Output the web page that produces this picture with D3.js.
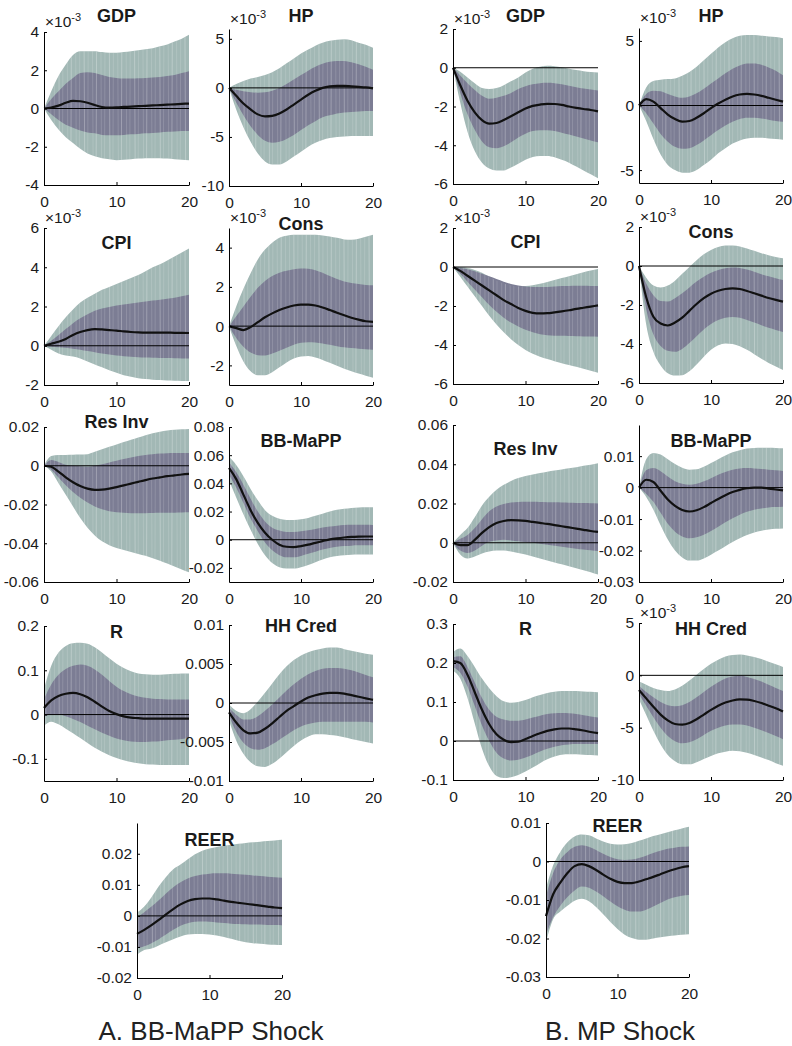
<!DOCTYPE html>
<html>
<head>
<meta charset="utf-8">
<script src="https://cdn.jsdelivr.net/npm/d3@7"></script>
<style>
  body { margin: 0; background: #fff; }
  svg text { font-family: "Liberation Sans", Arial, Helvetica, sans-serif; }
  .tick text { font-size: 15.5px; }
</style>
</head>
<body>
<div id="chart"></div>
<script>
// horizons (quarters after the shock)
var horizons = [0,1,2,3,4,5,6,7,8,9,10,11,12,13,14,15,16,17,18,19,20];

// each panel: [median, inner low, inner high, outer low, outer high]
// A. BB-MaPP shock
var gdpA = [
  [0,0.05,0.15,0.3,0.4,0.38,0.3,0.18,0.08,0.05,0.06,0.08,0.1,0.12,0.14,0.16,0.18,0.2,0.22,0.24,0.26],
  [0,-0.3,-0.6,-0.85,-1.0,-1.15,-1.25,-1.3,-1.38,-1.4,-1.4,-1.38,-1.35,-1.33,-1.3,-1.28,-1.25,-1.22,-1.2,-1.18,-1.17],
  [0,0.5,0.9,1.3,1.6,1.85,1.9,1.85,1.75,1.65,1.6,1.57,1.57,1.58,1.6,1.62,1.65,1.7,1.75,1.85,1.95],
  [0,-0.6,-1.1,-1.5,-1.8,-2.1,-2.35,-2.5,-2.6,-2.65,-2.7,-2.68,-2.65,-2.62,-2.6,-2.6,-2.6,-2.62,-2.65,-2.68,-2.7],
  [0,0.9,1.7,2.3,2.8,3.0,3.0,3.0,2.95,2.92,2.92,2.95,3.0,3.05,3.1,3.15,3.25,3.35,3.5,3.65,3.85]
];
var hpA = [
  [0,-0.8,-1.6,-2.2,-2.7,-2.9,-2.85,-2.6,-2.2,-1.7,-1.2,-0.7,-0.3,0,0.15,0.2,0.2,0.15,0.1,0.05,-0.05],
  [0,-1.5,-2.8,-3.9,-4.8,-5.4,-5.6,-5.5,-5.2,-4.8,-4.3,-3.8,-3.4,-3.0,-2.8,-2.6,-2.5,-2.45,-2.4,-2.35,-2.35],
  [0,-0.2,-0.35,-0.45,-0.5,-0.45,-0.3,0,0.4,0.85,1.3,1.75,2.15,2.45,2.65,2.75,2.75,2.6,2.4,2.15,1.85],
  [0,-2.2,-4.0,-5.5,-6.7,-7.5,-7.8,-7.8,-7.5,-7.0,-6.5,-6.0,-5.6,-5.3,-5.1,-5.0,-4.95,-4.9,-4.9,-4.9,-4.9],
  [0,0.4,0.7,0.95,1.1,1.3,1.6,2.0,2.5,3.0,3.5,3.9,4.3,4.6,4.8,4.9,4.95,4.85,4.6,4.4,4.1]
];
var cpiA = [
  [0,0.1,0.2,0.35,0.55,0.7,0.8,0.85,0.83,0.8,0.77,0.73,0.7,0.68,0.67,0.67,0.67,0.67,0.66,0.66,0.65],
  [0,-0.05,-0.08,-0.1,-0.15,-0.2,-0.27,-0.33,-0.4,-0.45,-0.5,-0.53,-0.56,-0.58,-0.6,-0.61,-0.62,-0.63,-0.64,-0.65,-0.65],
  [0,0.25,0.55,0.85,1.15,1.4,1.6,1.78,1.9,1.98,2.05,2.1,2.15,2.2,2.25,2.3,2.35,2.4,2.45,2.52,2.6],
  [0,-0.2,-0.4,-0.5,-0.55,-0.65,-0.8,-0.95,-1.1,-1.25,-1.38,-1.5,-1.58,-1.65,-1.7,-1.73,-1.75,-1.77,-1.78,-1.79,-1.8],
  [0,0.5,1.0,1.45,1.85,2.2,2.45,2.65,2.85,3.0,3.15,3.3,3.45,3.6,3.8,4.0,4.15,4.35,4.55,4.75,4.95]
];
var consA = [
  [0,-0.1,-0.2,-0.05,0.2,0.45,0.65,0.82,0.95,1.05,1.1,1.1,1.05,0.95,0.82,0.68,0.55,0.43,0.33,0.25,0.22],
  [0,-0.6,-1.05,-1.35,-1.48,-1.5,-1.4,-1.25,-1.1,-0.95,-0.85,-0.82,-0.83,-0.88,-0.95,-1.02,-1.08,-1.12,-1.15,-1.18,-1.2],
  [0,0.5,1.0,1.5,1.95,2.3,2.55,2.72,2.82,2.9,2.93,2.92,2.85,2.72,2.55,2.4,2.28,2.2,2.15,2.1,2.08],
  [0,-1.0,-1.8,-2.3,-2.5,-2.5,-2.35,-2.1,-1.85,-1.65,-1.55,-1.52,-1.6,-1.72,-1.87,-2.02,-2.17,-2.3,-2.42,-2.53,-2.63],
  [0,1.0,1.9,2.7,3.4,3.9,4.25,4.5,4.6,4.65,4.65,4.65,4.65,4.62,4.57,4.5,4.42,4.4,4.45,4.55,4.65]
];
var resInvA = [
  [0,-0.0005,-0.003,-0.006,-0.0085,-0.0105,-0.0118,-0.0124,-0.0123,-0.0118,-0.011,-0.0101,-0.0092,-0.0083,-0.0074,-0.0066,-0.006,-0.0054,-0.005,-0.0045,-0.0042],
  [0,-0.002,-0.006,-0.01,-0.0135,-0.0165,-0.019,-0.021,-0.0225,-0.0235,-0.024,-0.0243,-0.0245,-0.0245,-0.0245,-0.0244,-0.0243,-0.0242,-0.0242,-0.0241,-0.024],
  [0,0.003,0.002,0.0005,0,-0.0003,-0.0005,0,0.0008,0.0017,0.0026,0.0035,0.0043,0.005,0.0056,0.006,0.0063,0.0065,0.0066,0.0066,0.0066],
  [0,-0.003,-0.009,-0.015,-0.021,-0.027,-0.032,-0.036,-0.039,-0.041,-0.0425,-0.0435,-0.0445,-0.0455,-0.0465,-0.0478,-0.049,-0.0505,-0.052,-0.0535,-0.055],
  [0,0.005,0.0055,0.0056,0.0057,0.0058,0.006,0.0072,0.0085,0.0098,0.011,0.0122,0.0134,0.0146,0.0158,0.0168,0.0176,0.0182,0.0186,0.0188,0.019]
];
var bbA = [
  [0.051,0.043,0.032,0.021,0.012,0.005,0.0,-0.0035,-0.005,-0.0052,-0.0045,-0.0035,-0.0022,-0.001,0.0002,0.001,0.0016,0.002,0.0022,0.0023,0.0023],
  [0.046,0.037,0.026,0.015,0.006,-0.002,-0.0075,-0.011,-0.0125,-0.0125,-0.0115,-0.01,-0.0085,-0.007,-0.0058,-0.005,-0.0045,-0.0042,-0.004,-0.004,-0.004],
  [0.055,0.048,0.039,0.029,0.02,0.013,0.0085,0.0065,0.0055,0.0055,0.006,0.0068,0.0077,0.0086,0.0094,0.01,0.0104,0.0106,0.0106,0.0106,0.0105],
  [0.042,0.03,0.018,0.007,-0.003,-0.011,-0.0165,-0.0195,-0.0205,-0.0205,-0.0195,-0.018,-0.016,-0.014,-0.0125,-0.0115,-0.011,-0.0107,-0.0105,-0.0104,-0.0104],
  [0.059,0.053,0.045,0.036,0.028,0.021,0.017,0.0148,0.014,0.014,0.0145,0.0155,0.017,0.0185,0.02,0.0212,0.022,0.0226,0.0229,0.023,0.023]
];
var rA = [
  [0.015,0.032,0.042,0.047,0.049,0.046,0.039,0.029,0.018,0.008,0.001,-0.004,-0.007,-0.008,-0.009,-0.009,-0.009,-0.009,-0.009,-0.009,-0.009],
  [-0.005,0.0,0.0,-0.004,-0.01,-0.017,-0.025,-0.033,-0.041,-0.048,-0.054,-0.058,-0.061,-0.062,-0.062,-0.061,-0.06,-0.058,-0.057,-0.055,-0.053],
  [0.035,0.068,0.09,0.103,0.11,0.113,0.11,0.102,0.09,0.076,0.063,0.053,0.046,0.041,0.038,0.036,0.035,0.034,0.034,0.034,0.034],
  [-0.025,-0.016,-0.022,-0.032,-0.042,-0.053,-0.064,-0.075,-0.084,-0.092,-0.098,-0.103,-0.107,-0.11,-0.112,-0.113,-0.114,-0.114,-0.114,-0.114,-0.114],
  [0.058,0.11,0.14,0.155,0.161,0.162,0.16,0.152,0.14,0.127,0.115,0.105,0.098,0.093,0.091,0.09,0.09,0.091,0.092,0.093,0.093]
];
var hhA = [
  [-0.0012,-0.0025,-0.0035,-0.0039,-0.0038,-0.0033,-0.0026,-0.0018,-0.001,-0.0004,0.0002,0.0007,0.001,0.0012,0.0013,0.0013,0.0012,0.001,0.0008,0.0006,0.0004],
  [-0.0016,-0.0037,-0.0051,-0.0058,-0.006,-0.0058,-0.0053,-0.0047,-0.0041,-0.0035,-0.003,-0.0027,-0.0025,-0.0024,-0.0024,-0.0024,-0.0024,-0.0024,-0.0024,-0.0024,-0.0025],
  [-0.0006,-0.0015,-0.0021,-0.0021,-0.0017,-0.001,-0.0002,0.0007,0.0016,0.0024,0.0031,0.0037,0.0041,0.0044,0.0045,0.0045,0.0044,0.0042,0.0039,0.0036,0.0033],
  [-0.0022,-0.0048,-0.0065,-0.0076,-0.0081,-0.0082,-0.0078,-0.0071,-0.0063,-0.0055,-0.0048,-0.0043,-0.004,-0.004,-0.0041,-0.0042,-0.0044,-0.0046,-0.0048,-0.005,-0.0052],
  [-0.0002,-0.001,-0.0013,-0.0008,0.0002,0.0013,0.0025,0.0037,0.0047,0.0055,0.0061,0.0065,0.0068,0.007,0.0071,0.0071,0.0069,0.0067,0.0065,0.0063,0.0062]
];
var reerA = [
  [-0.0058,-0.0045,-0.003,-0.0013,0.0005,0.0022,0.0037,0.0048,0.0054,0.0056,0.0056,0.0053,0.0049,0.0045,0.0042,0.0039,0.0036,0.0033,0.003,0.0027,0.0025],
  [-0.0105,-0.0098,-0.0088,-0.0075,-0.006,-0.0045,-0.0032,-0.0024,-0.0019,-0.0018,-0.0019,-0.0021,-0.0023,-0.0025,-0.0026,-0.0027,-0.0028,-0.0028,-0.0029,-0.0029,-0.003],
  [-0.0005,0.0012,0.003,0.005,0.0072,0.0092,0.0108,0.012,0.0128,0.0133,0.0136,0.0137,0.0137,0.0136,0.0134,0.0132,0.013,0.0128,0.0126,0.0124,0.0123],
  [-0.0125,-0.011,-0.0105,-0.0095,-0.0085,-0.0075,-0.0066,-0.006,-0.0058,-0.0058,-0.006,-0.0063,-0.0068,-0.0074,-0.008,-0.0085,-0.0088,-0.009,-0.0092,-0.0093,-0.0094],
  [0.001,0.003,0.006,0.0095,0.0125,0.015,0.0165,0.0182,0.0198,0.021,0.0217,0.0222,0.0226,0.0229,0.0232,0.0235,0.0237,0.0239,0.0241,0.0243,0.0245]
];

// B. MP shock
var gdpB = [
  [0,-0.9,-1.7,-2.3,-2.7,-2.88,-2.85,-2.7,-2.5,-2.3,-2.1,-1.97,-1.9,-1.86,-1.87,-1.92,-2.0,-2.07,-2.13,-2.18,-2.25],
  [0,-1.3,-2.4,-3.2,-3.8,-4.1,-4.15,-4.05,-3.85,-3.6,-3.4,-3.27,-3.22,-3.22,-3.27,-3.35,-3.45,-3.55,-3.65,-3.75,-3.85],
  [0,-0.4,-0.8,-1.15,-1.45,-1.6,-1.55,-1.45,-1.3,-1.1,-0.95,-0.85,-0.8,-0.78,-0.8,-0.85,-0.93,-1.0,-1.07,-1.12,-1.17],
  [0,-1.8,-3.3,-4.3,-4.9,-5.2,-5.3,-5.3,-5.15,-4.95,-4.75,-4.6,-4.55,-4.55,-4.62,-4.75,-4.9,-5.1,-5.3,-5.5,-5.7],
  [0,-0.2,-0.5,-0.8,-1.05,-1.1,-1.05,-0.9,-0.7,-0.5,-0.25,-0.05,0.05,0.1,0.08,0.02,-0.05,-0.12,-0.18,-0.22,-0.25]
];
var hpB = [
  [0,0.5,0.3,-0.2,-0.7,-1.05,-1.25,-1.2,-0.95,-0.6,-0.2,0.15,0.45,0.7,0.85,0.9,0.85,0.75,0.6,0.45,0.3],
  [0,-0.6,-1.4,-2.2,-2.8,-3.2,-3.35,-3.3,-3.05,-2.7,-2.3,-1.9,-1.55,-1.25,-1.05,-0.95,-0.95,-1.0,-1.1,-1.2,-1.25],
  [0,0.9,1.15,1.1,0.9,0.7,0.6,0.7,0.95,1.3,1.7,2.1,2.5,2.85,3.1,3.25,3.25,3.15,2.95,2.7,2.35],
  [0,-1.2,-2.6,-3.8,-4.6,-5.0,-5.2,-5.2,-5.0,-4.6,-4.2,-3.7,-3.3,-2.95,-2.7,-2.55,-2.5,-2.5,-2.55,-2.6,-2.65],
  [0,1.4,1.9,2.0,2.05,2.1,2.3,2.6,3.0,3.5,4.0,4.5,4.9,5.2,5.4,5.45,5.45,5.4,5.35,5.3,5.2]
];
var cpiB = [
  [0,-0.2,-0.45,-0.7,-0.95,-1.2,-1.45,-1.7,-1.9,-2.1,-2.25,-2.35,-2.38,-2.37,-2.33,-2.28,-2.22,-2.15,-2.09,-2.03,-1.97],
  [0,-0.35,-0.75,-1.15,-1.55,-1.95,-2.3,-2.6,-2.85,-3.05,-3.22,-3.35,-3.45,-3.5,-3.52,-3.53,-3.54,-3.55,-3.56,-3.57,-3.58],
  [0,-0.05,-0.12,-0.22,-0.35,-0.48,-0.62,-0.75,-0.87,-0.95,-1.0,-1.02,-1.03,-1.02,-1.0,-0.98,-0.97,-0.96,-0.96,-0.97,-0.98],
  [0,-0.5,-1.0,-1.5,-2.0,-2.5,-2.95,-3.35,-3.7,-4.0,-4.25,-4.45,-4.6,-4.72,-4.83,-4.93,-5.03,-5.12,-5.22,-5.32,-5.42],
  [0,0,-0.05,-0.15,-0.3,-0.5,-0.7,-0.85,-0.95,-1.0,-0.98,-0.93,-0.86,-0.77,-0.67,-0.57,-0.47,-0.37,-0.27,-0.18,-0.1]
];
var consB = [
  [0,-1.6,-2.6,-2.95,-3.05,-2.9,-2.65,-2.3,-1.95,-1.65,-1.42,-1.27,-1.18,-1.15,-1.18,-1.28,-1.4,-1.52,-1.64,-1.74,-1.83],
  [0,-2.2,-3.5,-4.1,-4.35,-4.4,-4.25,-3.95,-3.6,-3.25,-2.97,-2.77,-2.65,-2.62,-2.66,-2.77,-2.9,-3.04,-3.17,-3.28,-3.38],
  [0,-0.9,-1.5,-1.8,-1.82,-1.65,-1.4,-1.1,-0.8,-0.55,-0.35,-0.2,-0.12,-0.08,-0.1,-0.18,-0.3,-0.42,-0.53,-0.63,-0.72],
  [0,-3.0,-4.4,-5.1,-5.5,-5.62,-5.6,-5.4,-5.05,-4.65,-4.3,-4.07,-3.97,-4.0,-4.12,-4.3,-4.52,-4.75,-4.97,-5.15,-5.33],
  [0,-0.6,-1.0,-1.1,-1.0,-0.75,-0.4,-0.05,0.3,0.6,0.82,0.97,1.05,1.05,1.0,0.9,0.78,0.66,0.55,0.46,0.4]
];
var resInvB = [
  [0,-0.0012,-0.0012,0.0015,0.005,0.008,0.0101,0.0111,0.0115,0.0114,0.0111,0.0106,0.0101,0.0096,0.009,0.0084,0.0078,0.0072,0.0066,0.006,0.0055],
  [0,-0.004,-0.0052,-0.004,-0.0015,0.0005,0.0012,0.0015,0.0012,0.0008,0.0004,0,-0.0005,-0.001,-0.0015,-0.002,-0.0025,-0.003,-0.0034,-0.0038,-0.0042],
  [0,0.002,0.004,0.0075,0.012,0.016,0.0185,0.0198,0.0205,0.0208,0.0209,0.0209,0.0208,0.0207,0.0206,0.0205,0.0204,0.0203,0.0202,0.0201,0.02],
  [0,-0.006,-0.008,-0.007,-0.0055,-0.0045,-0.004,-0.004,-0.0045,-0.0052,-0.006,-0.007,-0.008,-0.009,-0.01,-0.011,-0.012,-0.013,-0.014,-0.015,-0.0162],
  [0,0.004,0.0075,0.013,0.019,0.0235,0.027,0.0295,0.0315,0.033,0.034,0.0348,0.0355,0.0362,0.0368,0.0373,0.0379,0.0385,0.0392,0.0398,0.0405]
];
var bbB = [
  [0,0.0025,0.0018,-0.001,-0.0038,-0.0058,-0.0071,-0.0076,-0.0072,-0.0062,-0.0049,-0.0036,-0.0024,-0.0014,-0.0007,-0.0002,0,0,-0.0003,-0.0006,-0.0009],
  [0,-0.002,-0.0045,-0.008,-0.0115,-0.014,-0.0155,-0.0161,-0.0158,-0.015,-0.0138,-0.0124,-0.011,-0.0097,-0.0086,-0.0077,-0.007,-0.0066,-0.0063,-0.0062,-0.0061],
  [0,0.0055,0.0062,0.0052,0.0035,0.002,0.0012,0.0009,0.0012,0.002,0.003,0.0041,0.005,0.0057,0.0061,0.0062,0.0061,0.0059,0.0057,0.0055,0.0053],
  [0,-0.003,-0.007,-0.012,-0.0165,-0.02,-0.0222,-0.0232,-0.0232,-0.0225,-0.0213,-0.02,-0.0186,-0.0173,-0.0161,-0.0151,-0.0143,-0.0137,-0.0133,-0.0131,-0.013],
  [0,0.009,0.011,0.0105,0.009,0.0075,0.0063,0.0057,0.0058,0.0066,0.0078,0.009,0.0102,0.0112,0.0119,0.0124,0.0126,0.0127,0.0127,0.0126,0.0125]
];
var rB = [
  [0.205,0.2,0.17,0.125,0.08,0.043,0.017,0.003,-0.003,-0.002,0.005,0.013,0.02,0.026,0.03,0.032,0.032,0.03,0.027,0.023,0.02],
  [0.19,0.175,0.14,0.09,0.04,0.0,-0.03,-0.045,-0.05,-0.048,-0.042,-0.035,-0.027,-0.02,-0.015,-0.011,-0.009,-0.008,-0.008,-0.008,-0.008],
  [0.215,0.217,0.19,0.15,0.11,0.08,0.062,0.055,0.052,0.052,0.055,0.06,0.065,0.069,0.071,0.072,0.071,0.069,0.066,0.063,0.06],
  [0.18,0.16,0.11,0.045,-0.02,-0.065,-0.09,-0.095,-0.093,-0.087,-0.078,-0.068,-0.057,-0.047,-0.04,-0.035,-0.034,-0.034,-0.035,-0.036,-0.037],
  [0.228,0.237,0.218,0.19,0.16,0.135,0.115,0.102,0.098,0.1,0.105,0.112,0.118,0.123,0.126,0.128,0.128,0.128,0.127,0.126,0.125]
];
var hhB = [
  [-1.4,-2.2,-3.0,-3.75,-4.3,-4.65,-4.7,-4.55,-4.2,-3.75,-3.3,-2.9,-2.6,-2.4,-2.3,-2.32,-2.45,-2.65,-2.9,-3.15,-3.45],
  [-1.8,-2.9,-4.0,-5.0,-5.8,-6.3,-6.5,-6.4,-6.1,-5.7,-5.3,-5.0,-4.8,-4.7,-4.7,-4.8,-5.0,-5.25,-5.5,-5.8,-6.1],
  [-1.0,-1.6,-2.1,-2.55,-2.85,-2.95,-2.85,-2.55,-2.1,-1.6,-1.1,-0.65,-0.3,-0.1,-0.05,-0.15,-0.35,-0.6,-0.9,-1.2,-1.5],
  [-2.3,-3.8,-5.3,-6.6,-7.6,-8.2,-8.5,-8.5,-8.3,-8.0,-7.7,-7.45,-7.3,-7.2,-7.25,-7.4,-7.6,-7.85,-8.1,-8.4,-8.65],
  [-0.6,-0.9,-1.2,-1.4,-1.5,-1.35,-1.0,-0.5,0.05,0.6,1.1,1.5,1.8,1.95,2.0,1.9,1.75,1.55,1.3,1.05,0.8]
];
var reerB = [
  [-0.0142,-0.0085,-0.0055,-0.003,-0.0012,-0.0007,-0.0012,-0.0022,-0.0034,-0.0045,-0.0053,-0.0056,-0.0056,-0.0052,-0.0046,-0.004,-0.0033,-0.0026,-0.002,-0.0015,-0.0012],
  [-0.019,-0.0145,-0.0115,-0.0092,-0.0075,-0.0065,-0.0068,-0.0078,-0.009,-0.0104,-0.0116,-0.0125,-0.013,-0.013,-0.0125,-0.0117,-0.0108,-0.0099,-0.0093,-0.0089,-0.0087],
  [-0.009,-0.003,0.0005,0.0025,0.0038,0.0042,0.0038,0.003,0.002,0.0012,0.0006,0.0004,0.0005,0.0009,0.0015,0.0022,0.0028,0.0033,0.0036,0.0038,0.0039],
  [-0.021,-0.015,-0.013,-0.0115,-0.0102,-0.0097,-0.0103,-0.0118,-0.0137,-0.0157,-0.0175,-0.019,-0.0199,-0.0203,-0.0203,-0.02,-0.0197,-0.0194,-0.0192,-0.019,-0.0189],
  [-0.007,-0.001,0.0025,0.005,0.0065,0.007,0.0068,0.006,0.0052,0.0046,0.0044,0.0045,0.0048,0.0054,0.006,0.0066,0.0071,0.0076,0.0081,0.0086,0.009]
];

// panel order, titles, y limits, y ticks, and whether the axis carries x10^-3
var series = [gdpA, hpA, gdpB, hpB, cpiA, consA, cpiB, consB, resInvA, bbA, resInvB, bbB, rA, hhA, rB, hhB, reerA, reerB];
var titles = ["GDP","HP","GDP","HP","CPI","Cons","CPI","Cons","Res Inv","BB-MaPP","Res Inv","BB-MaPP","R","HH Cred","R","HH Cred","REER","REER"];
var yLimits = [[-4,4],[-10,6],[-6,2],[-6,6],[-2,6],[-3,5],[-6,2],[-6,2],
  [-0.06,0.02],[-0.03,0.08],[-0.02,0.06],[-0.03,0.0199],
  [-0.15,0.2],[-0.01,0.01],[-0.1,0.3],[-10,5],[-0.02,0.0299],[-0.03,0.01]];
var yTicks = [[-4,-2,0,2,4],[-10,-5,0,5],[-6,-4,-2,0,2],[-5,0,5],[-2,0,2,4,6],[-2,0,2,4],[-6,-4,-2,0,2],[-6,-4,-2,0,2],
  [-0.06,-0.04,-0.02,0,0.02],[-0.02,0,0.02,0.04,0.06,0.08],[-0.02,0,0.02,0.04,0.06],[-0.03,-0.02,-0.01,0,0.01],
  [-0.1,0,0.1,0.2],[-0.01,-0.005,0,0.005,0.01],[-0.1,0,0.1,0.2,0.3],[-10,-5,0,5],[-0.02,-0.01,0,0.01,0.02],[-0.03,-0.02,-0.01,0,0.01]];
var exp3 = [1,1,1,1,1,1,1,1,0,0,0,0,0,0,0,1,0,0];
var xTicks = [0,10,20];
var groupLabels = ["A. BB-MaPP Shock","B. MP Shock"];

// axes boxes in pixels: [left, right, top, bottom, title baseline]
var boxes = [
  [44,189,32,185,22],[229,373,29,186,22],[453,598,29,184,22],[639,783,28,183,22],
  [44,189,228,385,249],[229,373,228,385,230],[453,598,228,384,248],[639,783,227,383,238],
  [44,189,427,582,428],[229,373,427,582,447],[453,598,425,582,455],[639,783,425,582,447],
  [44,189,626,781,638],[229,373,625,781,632],[453,598,624,780,635],[639,783,623,780,635],
  [137,282,823,978,846],[546,689,823,977,832]
];
var labelPos = [[211,1040],[620,1040]];

var W = 792, H = 1046;
var outerColor = "#a2b8b5", innerColor = "#7c7d94";
var font = "'Liberation Sans', Arial, Helvetica, sans-serif";

var svg = d3.select("#chart").append("svg")
  .attr("width", W).attr("height", H);

var defs = svg.append("defs");

series.forEach(function(s, i) {
  var b = boxes[i];
  var x = d3.scaleLinear().domain([0, 20]).range([b[0], b[1]]);
  var y = d3.scaleLinear().domain(yLimits[i]).range([b[3], b[2]]);
  var g = svg.append("g");

  var band = function(lo, hi) {
    return d3.area()
      .x(function(d) { return x(d); })
      .y0(function(d, k) { return y(lo[k]); })
      .y1(function(d, k) { return y(hi[k]); })
      .curve(d3.curveMonotoneX);
  };
  var outerArea = band(s[3], s[4]);
  var innerArea = band(s[1], s[2]);

  // outer band, then inner band
  g.append("path").attr("d", outerArea(horizons)).attr("fill", outerColor);
  g.append("path").attr("d", innerArea(horizons)).attr("fill", innerColor);

  // faint seams between the filled slices, clipped to the outer band
  defs.append("clipPath").attr("id", "clip" + i)
    .append("path").attr("d", outerArea(horizons));
  var seams = d3.range(0.3, 20, 0.58);
  g.append("g").attr("clip-path", "url(#clip" + i + ")")
    .selectAll("line").data(seams).enter().append("line")
      .attr("x1", function(d) { return x(d); })
      .attr("x2", function(d, k) { return x(d) + (k % 2 ? 0.8 : -0.6); })
      .attr("y1", b[2]).attr("y2", b[3])
      .attr("stroke", "#ffffff")
      .attr("stroke-opacity", function(d, k) { return k % 3 === 0 ? 0.3 : 0.17; })
      .attr("stroke-width", 0.9);

  // zero line
  g.append("line")
    .attr("x1", x(0)).attr("x2", x(20))
    .attr("y1", y(0)).attr("y2", y(0))
    .attr("stroke", "#000").attr("stroke-width", 1);

  // median response
  g.append("path")
    .attr("d", d3.line()
      .x(function(d) { return x(d); })
      .y(function(d, k) { return y(s[0][k]); })
      .curve(d3.curveMonotoneX)(horizons))
    .attr("fill", "none")
    .attr("stroke", "#111")
    .attr("stroke-width", 2.2);

  // axes
  var yAxis = g.append("g")
    .attr("transform", "translate(" + b[0] + ",0)")
    .call(d3.axisLeft(y).tickValues(yTicks[i]).tickSizeInner(-3).tickSizeOuter(0)
      .tickPadding(5).tickFormat(function(d) { return String(d); }));
  var xAxis = g.append("g")
    .attr("transform", "translate(0," + b[3] + ")")
    .call(d3.axisBottom(x).tickValues(xTicks).tickSizeInner(-3).tickSizeOuter(0)
      .tickPadding(11).tickFormat(function(d) { return String(d); }));
  [yAxis, xAxis].forEach(function(a) {
    a.attr("font-size", 15.5).attr("font-family", font);
    a.selectAll("text").attr("fill", "#1a1a1a");
    a.selectAll("line, path").attr("stroke", "#000").attr("stroke-width", 1);
  });

  // x10^-3 multiplier
  if (exp3[i]) {
    var m = g.append("text")
      .attr("x", b[0] + 1).attr("y", b[2] - 5)
      .attr("font-size", 15.5).attr("fill", "#1a1a1a");
    m.append("tspan").text("\u00d710");
    m.append("tspan").attr("dy", -6).attr("font-size", 11).text("-3");
  }

  // title
  g.append("text")
    .attr("x", (b[0] + b[1]) / 2).attr("y", b[4])
    .attr("text-anchor", "middle")
    .attr("font-size", 18).attr("font-weight", "bold")
    .attr("fill", "#1a1a1a")
    .text(titles[i]);
});

// group captions
svg.selectAll(".group-label").data(groupLabels).enter().append("text")
  .attr("class", "group-label")
  .attr("x", function(d, i) { return labelPos[i][0]; })
  .attr("y", function(d, i) { return labelPos[i][1]; })
  .attr("text-anchor", "middle")
  .attr("font-size", 26)
  .attr("fill", "#222")
  .text(function(d) { return d; });
</script>
</body>
</html>
